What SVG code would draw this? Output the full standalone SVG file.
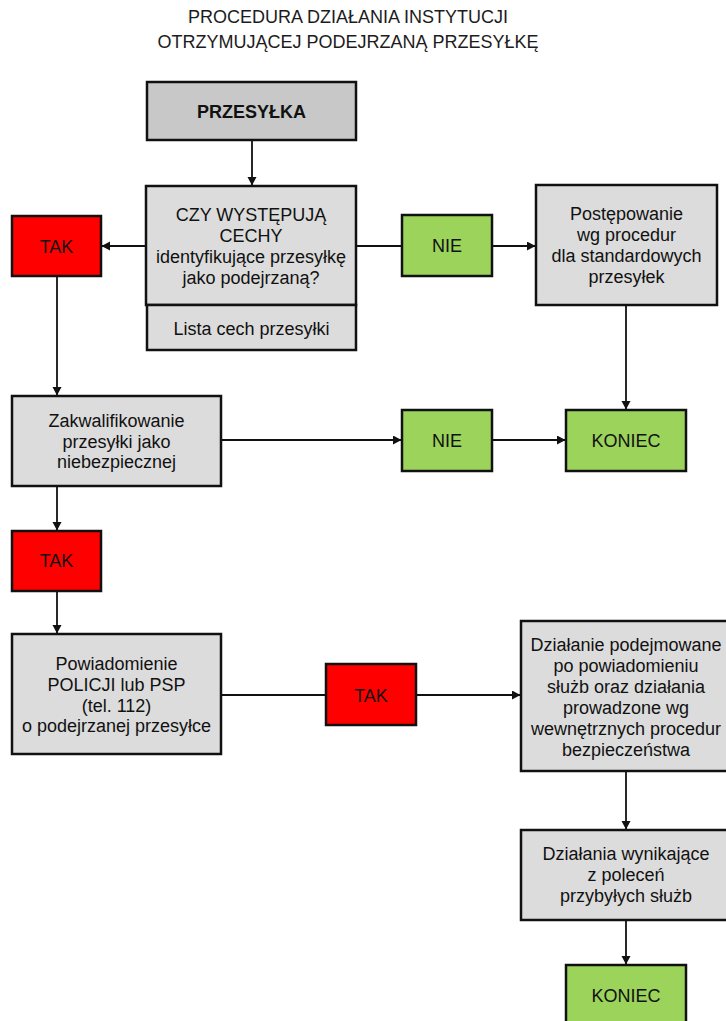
<svg xmlns="http://www.w3.org/2000/svg" width="726" height="1021" viewBox="0 0 726 1021">
<style>
  .box { stroke: #111; stroke-width: 2.5; }
  .gray { fill: #dcdcdc; }
  .dgray { fill: #c8c8c8; }
  .red { fill: #ff0000; }
  .green { fill: #9bd35b; }
  text { font-family: "Liberation Sans", Arial, sans-serif; font-size: 18px; fill: #111; text-anchor: middle; }
  .title { fill: #1c1c1c; }
  .bold { font-weight: bold; }
  .conn line { stroke: #111; stroke-width: 1.8; fill: none; }
</style>
<defs>
  <marker id="arr" markerUnits="userSpaceOnUse" markerWidth="9" markerHeight="10" refX="8" refY="4.5" orient="auto">
    <path d="M0,0 L8.5,4.5 L0,9 Z" fill="#111"/>
  </marker>
</defs>
<rect width="726" height="1021" fill="#fff"/>

<g id="title">
  <text class="title" x="348" y="23">PROCEDURA DZIAŁANIA INSTYTUCJI</text>
  <text class="title" x="348" y="48">OTRZYMUJĄCEJ PODEJRZANĄ PRZESYŁKĘ</text>
</g>

<g class="conn" id="connectors">
  <line x1="252" y1="140" x2="252" y2="185" marker-end="url(#arr)"/>
  <line x1="146" y1="246" x2="102" y2="246" marker-end="url(#arr)"/>
  <line x1="356" y1="246" x2="402" y2="246"/>
  <line x1="492" y1="246" x2="535" y2="246" marker-end="url(#arr)"/>
  <line x1="626" y1="305" x2="626" y2="409" marker-end="url(#arr)"/>
  <line x1="57" y1="276" x2="57" y2="395" marker-end="url(#arr)"/>
  <line x1="221" y1="440" x2="401" y2="440" marker-end="url(#arr)"/>
  <line x1="492" y1="440" x2="565" y2="440" marker-end="url(#arr)"/>
  <line x1="57" y1="486" x2="57" y2="530" marker-end="url(#arr)"/>
  <line x1="57" y1="591" x2="57" y2="633" marker-end="url(#arr)"/>
  <line x1="221" y1="695" x2="326" y2="695"/>
  <line x1="416" y1="695" x2="520" y2="695" marker-end="url(#arr)"/>
  <line x1="626" y1="771" x2="626" y2="829" marker-end="url(#arr)"/>
  <line x1="626" y1="920" x2="626" y2="964" marker-end="url(#arr)"/>
</g>

<g id="przesylka">
  <rect class="box dgray" x="147" y="82" width="209" height="58"/>
  <text class="bold" x="251.5" y="118">PRZESYŁKA</text>
</g>

<g id="pytanie">
  <rect class="box gray" x="146" y="186" width="210" height="119"/>
  <text x="251" y="221">CZY WYSTĘPUJĄ</text>
  <text x="251" y="242">CECHY</text>
  <text x="251" y="263">identyfikujące przesyłkę</text>
  <text x="251" y="284">jako podejrzaną?</text>
</g>

<g id="lista">
  <rect class="box gray" x="147" y="305" width="209" height="45"/>
  <text x="251.5" y="335">Lista cech przesyłki</text>
</g>

<g id="tak1">
  <rect class="box red" x="12" y="216" width="89" height="60"/>
  <text x="56.5" y="253">TAK</text>
</g>

<g id="nie1">
  <rect class="box green" x="402" y="215" width="90" height="61"/>
  <text x="447" y="252">NIE</text>
</g>

<g id="postepowanie">
  <rect class="box gray" x="536" y="185" width="181" height="120"/>
  <text x="626.5" y="220">Postępowanie</text>
  <text x="626.5" y="241">wg procedur</text>
  <text x="626.5" y="262">dla standardowych</text>
  <text x="626.5" y="283">przesyłek</text>
</g>

<g id="zakwalifikowanie">
  <rect class="box gray" x="12" y="396" width="209" height="90"/>
  <text x="116.5" y="427">Zakwalifikowanie</text>
  <text x="116.5" y="448">przesyłki jako</text>
  <text x="116.5" y="468">niebezpiecznej</text>
</g>

<g id="nie2">
  <rect class="box green" x="402" y="410" width="90" height="61"/>
  <text x="447" y="447">NIE</text>
</g>

<g id="koniec1">
  <rect class="box green" x="566" y="410" width="120" height="61"/>
  <text x="626" y="447">KONIEC</text>
</g>

<g id="tak2">
  <rect class="box red" x="12" y="531" width="89" height="60"/>
  <text x="56.5" y="567">TAK</text>
</g>

<g id="powiadomienie">
  <rect class="box gray" x="12" y="634" width="209" height="120"/>
  <text x="116.5" y="670">Powiadomienie</text>
  <text x="116.5" y="691">POLICJI lub PSP</text>
  <text x="116.5" y="712">(tel. 112)</text>
  <text x="116.5" y="732">o podejrzanej przesyłce</text>
</g>

<g id="tak3">
  <rect class="box red" x="326" y="664" width="90" height="61"/>
  <text x="371" y="702">TAK</text>
</g>

<g id="dzialanie">
  <rect class="box gray" x="521" y="621" width="210" height="150"/>
  <text x="626" y="651">Działanie podejmowane</text>
  <text x="626" y="672">po powiadomieniu</text>
  <text x="626" y="693">służb oraz działania</text>
  <text x="626" y="714">prowadzone wg</text>
  <text x="626" y="735">wewnętrznych procedur</text>
  <text x="626" y="756">bezpieczeństwa</text>
</g>

<g id="dzialania-wynikajace">
  <rect class="box gray" x="521" y="830" width="210" height="90"/>
  <text x="626" y="860">Działania wynikające</text>
  <text x="626" y="881">z poleceń</text>
  <text x="626" y="902">przybyłych służb</text>
</g>

<g id="koniec2">
  <rect class="box green" x="566" y="965" width="120" height="70"/>
  <text x="626" y="1002">KONIEC</text>
</g>
</svg>
